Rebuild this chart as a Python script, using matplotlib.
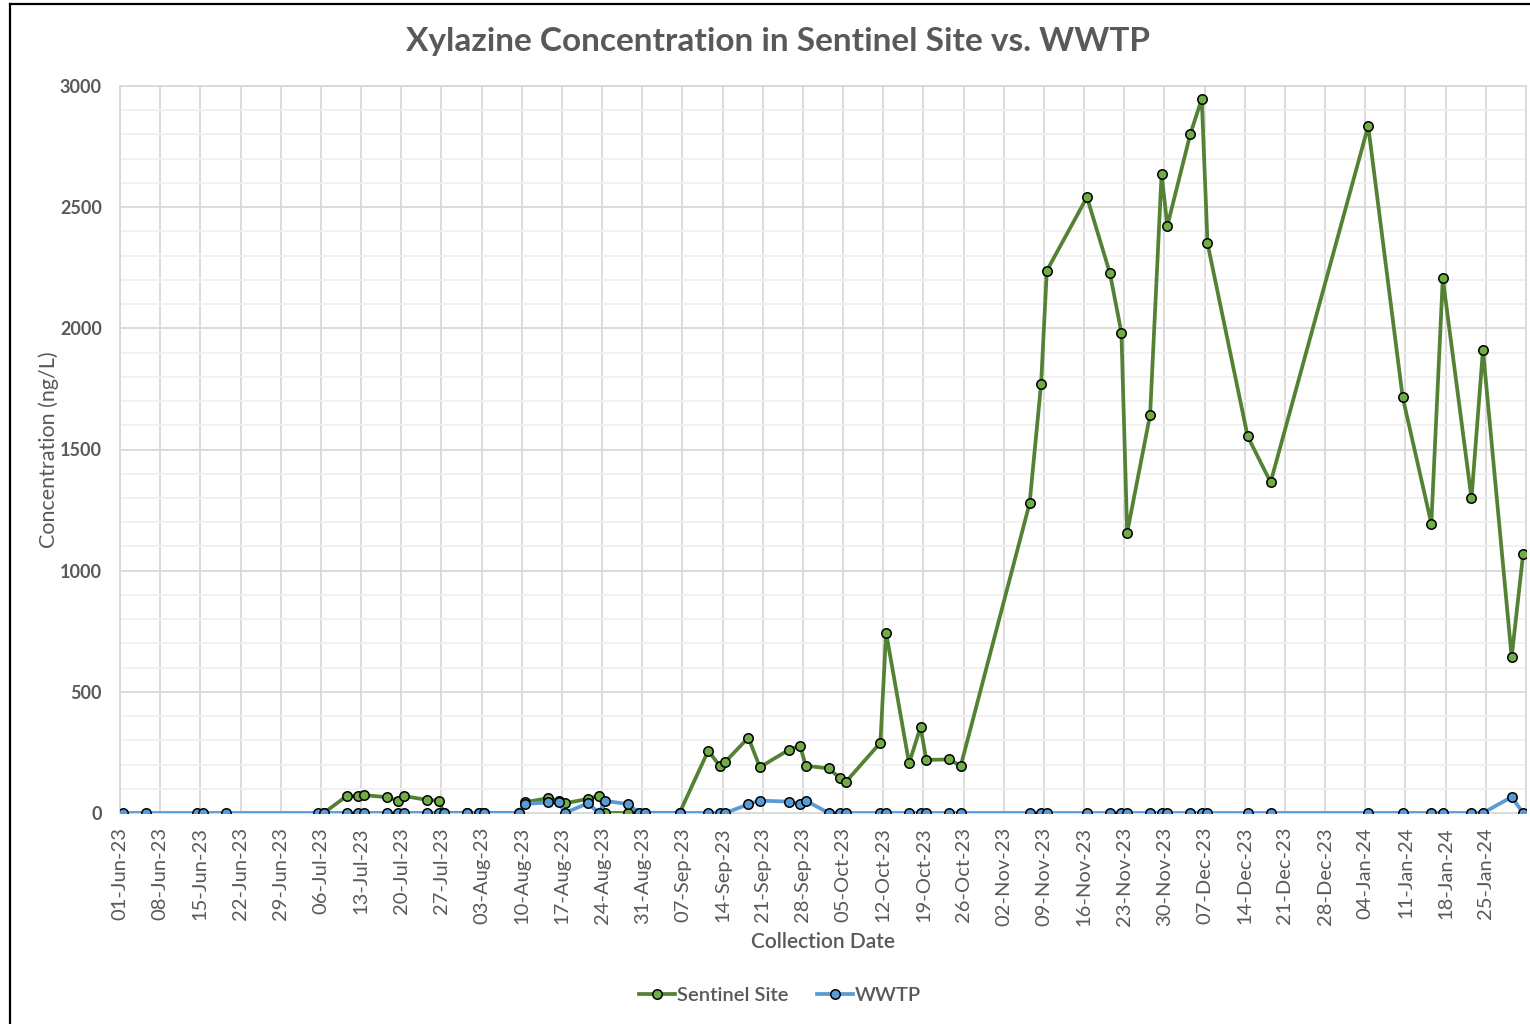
import matplotlib
matplotlib.use("Agg")
import matplotlib.pyplot as plt
import matplotlib.dates as mdates
from matplotlib.lines import Line2D
from matplotlib.ticker import MultipleLocator
import pandas as pd

# ---------------- data ----------------
wwtp_dates = [
    "2023-06-01", "2023-06-05", "2023-06-14", "2023-06-15", "2023-06-19",
    "2023-07-05", "2023-07-06", "2023-07-10", "2023-07-12", "2023-07-13",
    "2023-07-17", "2023-07-19", "2023-07-20", "2023-07-24", "2023-07-26",
    "2023-07-27", "2023-07-31", "2023-08-02", "2023-08-03", "2023-08-09",
    "2023-08-10", "2023-08-14", "2023-08-16", "2023-08-17", "2023-08-21",
    "2023-08-23", "2023-08-24", "2023-08-28", "2023-08-30", "2023-08-31",
    "2023-09-06", "2023-09-11", "2023-09-13", "2023-09-14", "2023-09-18",
    "2023-09-20", "2023-09-25", "2023-09-27", "2023-09-28", "2023-10-02",
    "2023-10-04", "2023-10-05", "2023-10-11", "2023-10-12", "2023-10-16",
    "2023-10-18", "2023-10-19", "2023-10-23", "2023-10-25", "2023-11-06",
    "2023-11-08", "2023-11-09", "2023-11-16", "2023-11-20", "2023-11-22",
    "2023-11-23", "2023-11-27", "2023-11-29", "2023-11-30", "2023-12-04",
    "2023-12-06", "2023-12-07", "2023-12-14", "2023-12-18", "2024-01-04",
    "2024-01-10", "2024-01-15", "2024-01-17", "2024-01-22", "2024-01-24",
    "2024-01-29", "2024-01-31",
]
wwtp_values = [
    0, 0, 0, 0, 0,
    0, 0, 0, 0, 0,
    0, 0, 0, 0, 0,
    0, 0, 0, 0, 0,
    37, 44, 44, 0, 40,
    0, 50, 37, 0, 0,
    0, 0, 0, 0, 36,
    51, 47, 37, 51, 0,
    0, 0, 0, 0, 0,
    0, 0, 0, 0, 0,
    0, 0, 0, 0, 0,
    0, 0, 0, 0, 0,
    0, 0, 0, 0, 0,
    0, 0, 0, 0, 0,
    66, 0,
]

sentinel_dates = [
    "2023-07-06", "2023-07-10", "2023-07-12", "2023-07-13", "2023-07-17",
    "2023-07-19", "2023-07-20", "2023-07-24", "2023-07-26", "2023-07-27",
    "2023-07-31", "2023-08-02", "2023-08-03", "2023-08-09", "2023-08-10",
    "2023-08-14", "2023-08-16", "2023-08-17", "2023-08-21", "2023-08-23",
    "2023-08-24", "2023-08-28", "2023-08-30", "2023-08-31", "2023-09-06",
    "2023-09-11", "2023-09-13", "2023-09-14", "2023-09-18", "2023-09-20",
    "2023-09-25", "2023-09-27", "2023-09-28", "2023-10-02", "2023-10-04",
    "2023-10-05", "2023-10-11", "2023-10-12", "2023-10-16", "2023-10-18",
    "2023-10-19", "2023-10-23", "2023-10-25", "2023-11-06", "2023-11-08",
    "2023-11-09", "2023-11-16", "2023-11-20", "2023-11-22", "2023-11-23",
    "2023-11-27", "2023-11-29", "2023-11-30", "2023-12-04", "2023-12-06",
    "2023-12-07", "2023-12-14", "2023-12-18", "2024-01-04", "2024-01-10",
    "2024-01-15", "2024-01-17", "2024-01-22", "2024-01-24", "2024-01-29",
    "2024-01-31",
]
sentinel_values = [
    0, 70, 70, 74, 65,
    51, 70, 54, 51, 0,
    0, 0, 0, 0, 44,
    61, 50, 40, 58, 71,
    0, 0, 0, 0, 0,
    257, 195, 212, 311, 189,
    260, 277, 195, 184, 143,
    129, 290, 744, 205, 355,
    219, 221, 194, 1278, 1769,
    2238, 2541, 2227, 1982, 1157,
    1643, 2637, 2423, 2801, 2947,
    2351, 1554, 1365, 2835, 1717,
    1194, 2206, 1298, 1911, 643,
    1069,
]

title = "Xylazine Concentration in Sentinel Site vs. WWTP"
x_label = "Collection Date"
y_label = "Concentration (ng/L)"
series_names = ["Sentinel Site", "WWTP"]

# ---------------- style ----------------
plt.rcParams["font.family"] = ["Lato", "DejaVu Sans"]
TEXT = "#595959"
GREEN_LINE = "#548235"
GREEN_FACE = "#70AD47"
BLUE = "#5B9BD5"

fig = plt.figure(figsize=(15.3, 10.24), dpi=100)
ax = fig.add_axes([120 / 1530, 1 - 813 / 1024, (1526 - 120) / 1530, (813 - 86) / 1024])

# Excel date axis puts points in the middle of each day
half_day = pd.Timedelta(hours=12)
s_x = pd.to_datetime(sentinel_dates) + half_day
w_x = pd.to_datetime(wwtp_dates) + half_day

ax.plot(s_x, sentinel_values, color=GREEN_LINE, lw=2.7, marker="o", ms=6.8,
        mfc=GREEN_FACE, mec="black", mew=1.1, label=series_names[0], zorder=3,
        solid_joinstyle="round")
ax.plot(w_x, wwtp_values, color=BLUE, lw=2.7, marker="o", ms=6.8,
        mfc=BLUE, mec="black", mew=1.1, label=series_names[1], zorder=4,
        solid_joinstyle="round")

ax.set_xlim(pd.Timestamp("2023-06-01"), pd.Timestamp("2024-02-01"))
ax.set_ylim(0, 3000)

ticks = pd.date_range("2023-06-01", "2024-01-25", freq="7D")
ax.set_xticks(ticks)
ax.xaxis.set_major_formatter(mdates.DateFormatter("%d-%b-%y"))
for lab in ax.get_xticklabels():
    lab.set_rotation(90)
ax.tick_params(axis="x", labelsize=14.5, colors=TEXT, length=0, pad=10)

ax.yaxis.set_major_locator(MultipleLocator(500))
ax.yaxis.set_minor_locator(MultipleLocator(100))
ax.tick_params(axis="y", which="both", length=0, pad=13)
for lab in ax.get_yticklabels():
    lab.set_fontweight("bold")
    lab.set_fontsize(13)
    lab.set_color(TEXT)

ax.grid(True, which="major", axis="both", color="#D9D9D9", lw=1.3, zorder=0)
ax.grid(True, which="minor", axis="y", color="#F0F0F0", lw=1.3, zorder=0)
ax.set_axisbelow(True)
for sp in ax.spines.values():
    sp.set_color("#D9D9D9")
    sp.set_linewidth(1.3)

ax.set_xlabel(x_label, fontsize=15, color=TEXT, fontweight="semibold", labelpad=4)
ax.set_ylabel(y_label, fontsize=15.5, color=TEXT, labelpad=1)

fig.text(778 / 1530, 1 - 42 / 1024, title, ha="center", va="center",
         fontsize=24, fontweight="bold", color=TEXT)

leg = fig.legend(loc="center", bbox_to_anchor=(780 / 1530, 1 - 995 / 1024), ncol=2,
                 frameon=False, fontsize=14.5, handlelength=1.8, columnspacing=1.4,
                 handletextpad=0.1)
for t in leg.get_texts():
    t.set_color(TEXT)
    t.set_fontweight("semibold")

# outer chart-area border (left and top visible in the screenshot)
fig.add_artist(Line2D([10 / 1530, 10 / 1530], [0, 1 - 4 / 1024], color="black", lw=1.6,
                      transform=fig.transFigure))
fig.add_artist(Line2D([10 / 1530, 1], [1 - 4 / 1024, 1 - 4 / 1024], color="black", lw=1.6,
                      transform=fig.transFigure))

fig.savefig("out.png", dpi=100, facecolor="white")
